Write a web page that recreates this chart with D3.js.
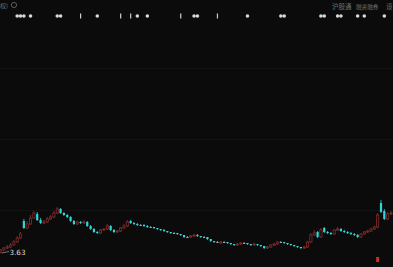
<!DOCTYPE html>
<html>
<head>
<meta charset="utf-8">
<script src="https://cdn.jsdelivr.net/npm/d3@7"></script>
<style>
  html, body { margin: 0; padding: 0; background: #0b0b0b; overflow: hidden; }
  svg { display: block; }
</style>
</head>
<body>
<div id="canvas"></div>
<script>
// daily candles, oldest first
var opens  = [3.64,3.66,3.68,3.69,3.71,3.74,3.78,3.95,3.88,3.92, 3.98,4.02,3.96,3.93,3.94,3.97,3.99,4.03,4.07,4.03,
              4.01,3.99,3.95,3.92,3.94,3.93,3.94,3.90,3.87,3.84, 3.83,3.86,3.87,3.90,3.86,3.84,3.85,3.88,3.90,3.95,
              3.93,3.92,3.91,3.91,3.90,3.89,3.89,3.88,3.87,3.86, 3.85,3.84,3.83,3.83,3.82,3.81,3.79,3.79,3.80,3.81,
              3.80,3.79,3.79,3.77,3.75,3.74,3.73,3.74,3.74,3.73, 3.72,3.71,3.72,3.73,3.73,3.72,3.71,3.72,3.71,3.70,
              3.68,3.69,3.71,3.72,3.74,3.74,3.73,3.72,3.71,3.70, 3.69,3.68,3.69,3.74,3.81,3.84,3.79,3.88,3.84,3.83,
              3.82,3.86,3.87,3.85,3.84,3.83,3.82,3.81,3.79,3.82, 3.84,3.85,3.87,3.89,4.13,4.05,3.97,4.02];
var closes = [3.66,3.68,3.69,3.71,3.74,3.78,3.82,3.88,3.92,3.98, 4.03,3.96,3.93,3.94,3.97,3.99,4.03,4.07,4.03,4.01,
              3.99,3.95,3.92,3.94,3.93,3.94,3.90,3.87,3.84,3.83, 3.86,3.87,3.90,3.86,3.84,3.85,3.88,3.90,3.94,3.93,
              3.92,3.91,3.91,3.90,3.89,3.89,3.88,3.87,3.86,3.85, 3.84,3.83,3.83,3.82,3.81,3.79,3.79,3.80,3.81,3.80,
              3.79,3.79,3.77,3.75,3.74,3.74,3.74,3.74,3.73,3.72, 3.71,3.72,3.73,3.73,3.72,3.71,3.72,3.71,3.70,3.68,
              3.69,3.71,3.72,3.74,3.74,3.73,3.72,3.71,3.70,3.69, 3.68,3.69,3.74,3.81,3.83,3.79,3.86,3.84,3.83,3.82,
              3.86,3.87,3.85,3.84,3.83,3.82,3.81,3.79,3.82,3.84, 3.85,3.87,3.89,4.01,4.04,3.97,4.02,4.03];
var highs  = [3.67,3.69,3.71,3.73,3.76,3.80,3.84,3.97,3.95,4.01, 4.05,4.04,3.98,3.96,3.99,4.01,4.05,4.09,4.08,4.04,
              4.02,4.00,3.96,3.95,3.95,3.96,3.95,3.91,3.88,3.85, 3.87,3.88,3.92,3.91,3.87,3.86,3.89,3.92,3.96,3.96,
              3.94,3.93,3.92,3.92,3.91,3.90,3.89,3.88,3.87,3.87, 3.85,3.84,3.84,3.83,3.82,3.81,3.80,3.81,3.82,3.82,
              3.80,3.80,3.79,3.77,3.75,3.75,3.75,3.75,3.74,3.73, 3.72,3.73,3.74,3.74,3.73,3.72,3.73,3.72,3.71,3.70,
              3.70,3.72,3.73,3.75,3.75,3.74,3.73,3.72,3.71,3.70, 3.69,3.70,3.75,3.83,3.86,3.85,3.88,3.89,3.85,3.84,
              3.87,3.89,3.88,3.86,3.85,3.84,3.83,3.82,3.83,3.85, 3.86,3.88,3.90,4.03,4.16,4.07,4.04,4.05];
var lows   = [3.63,3.65,3.67,3.68,3.70,3.73,3.77,3.87,3.87,3.91, 3.97,3.95,3.92,3.92,3.93,3.96,3.98,4.02,4.02,4.00,
              3.98,3.94,3.91,3.91,3.92,3.92,3.89,3.86,3.83,3.82, 3.82,3.85,3.86,3.85,3.83,3.83,3.84,3.87,3.89,3.92,
              3.91,3.90,3.90,3.89,3.88,3.88,3.87,3.86,3.85,3.84, 3.83,3.82,3.82,3.81,3.80,3.78,3.78,3.78,3.79,3.79,
              3.78,3.78,3.76,3.74,3.73,3.73,3.72,3.73,3.72,3.71, 3.70,3.70,3.71,3.72,3.71,3.70,3.70,3.70,3.69,3.67,
              3.67,3.68,3.70,3.71,3.73,3.72,3.71,3.70,3.69,3.68, 3.67,3.67,3.68,3.73,3.80,3.78,3.78,3.83,3.82,3.81,
              3.81,3.85,3.84,3.83,3.82,3.81,3.80,3.78,3.78,3.81, 3.83,3.84,3.86,3.88,4.03,3.96,3.96,4.01];

var gridPrices = [5.48, 4.77, 4.06];
var lowLabel = "3.63";

// event markers above the chart (candle index)
var eventDots = [5, 6, 7, 9, 17, 18, 29, 41, 44, 58, 59, 74, 84, 85, 96, 97, 101, 102, 107, 109, 115];
var eventBars = [24, 36, 39, 54, 65];
var tradeMarks = [113];

var W = 393, H = 267;
var UP = "#933030", DOWN = "#2fd8d8", FLAT = "#a8a8a8";

var svg = d3.select('#canvas').append('svg')
	.attr('width', W)
	.attr('height', H);

svg.append('rect').attr('width', W).attr('height', H).attr('fill', '#0b0b0b');

var x = d3.scaleLinear().domain([0, closes.length - 1]).range([0.5, 391]);
var y = d3.scaleLinear().domain([3.60, 5.88]).range([256, 28]);

// faint grid
svg.selectAll('line.grid')
	.data(gridPrices)
	.enter()
	.append('line')
	.attr('class', 'grid')
	.attr('x1', 0).attr('x2', W)
	.attr('y1', function(d) { return Math.round(y(d)) + 0.5; })
	.attr('y2', function(d) { return Math.round(y(d)) + 0.5; })
	.attr('stroke', '#121212')
	.attr('stroke-width', 1);

// header
svg.append('text')
	.attr('x', 0).attr('y', 8)
	.attr('font-family', 'Noto Sans CJK SC, sans-serif')
	.attr('font-size', 6)
	.attr('fill', '#6e6e6e')
	.text('权)');
svg.append('circle')
	.attr('cx', 14).attr('cy', 5).attr('r', 2.6)
	.attr('fill', 'none').attr('stroke', '#5a5a5a').attr('stroke-width', 1);

svg.append('text')
	.attr('x', 332).attr('y', 9)
	.attr('font-family', 'Noto Sans CJK SC, sans-serif')
	.attr('font-size', 6.5)
	.attr('fill', '#6e6e6e')
	.text('沪股通');
svg.append('text')
	.attr('x', 356).attr('y', 9)
	.attr('font-family', 'Noto Sans CJK SC, sans-serif')
	.attr('font-size', 5.6)
	.attr('fill', '#6e6e6e')
	.text('融资融券');
svg.append('text')
	.attr('x', 386).attr('y', 9)
	.attr('font-family', 'Noto Sans CJK SC, sans-serif')
	.attr('font-size', 6.5)
	.attr('fill', '#6e6e6e')
	.text('设');

// event row
svg.selectAll('circle.ev')
	.data(eventDots)
	.enter()
	.append('circle')
	.attr('class', 'ev')
	.attr('cx', function(d) { return x(d); })
	.attr('cy', 16)
	.attr('r', 1.8)
	.attr('fill', '#d8d8d8');
svg.selectAll('rect.evbar')
	.data(eventBars)
	.enter()
	.append('rect')
	.attr('class', 'evbar')
	.attr('x', function(d) { return x(d) - 0.6; })
	.attr('y', 13.5)
	.attr('width', 1.2)
	.attr('height', 5)
	.attr('fill', '#cfcfcf');

// candles
var candles = svg.selectAll('g.candle')
	.data(closes)
	.enter()
	.append('g')
	.attr('class', 'candle');

function col(i) {
	if (closes[i] > opens[i]) return UP;
	if (closes[i] < opens[i]) return DOWN;
	return FLAT;
}

candles.append('line')
	.attr('x1', function(d, i) { return x(i); })
	.attr('x2', function(d, i) { return x(i); })
	.attr('y1', function(d, i) { return y(highs[i]); })
	.attr('y2', function(d, i) { return y(lows[i]); })
	.attr('stroke', function(d, i) { return col(i); })
	.attr('stroke-width', 0.8);

candles.append('rect')
	.attr('x', function(d, i) { return x(i) - 1.1; })
	.attr('width', 2.2)
	.attr('y', function(d, i) { return y(Math.max(opens[i], closes[i])); })
	.attr('height', function(d, i) { return Math.max(1, Math.abs(y(opens[i]) - y(closes[i]))); })
	.attr('fill', function(d, i) { return closes[i] > opens[i] ? '#0b0b0b' : col(i); })
	.attr('stroke', function(d, i) { return closes[i] > opens[i] ? UP : 'none'; })
	.attr('stroke-width', 0.7);

// lowest price tag
var lowIdx = d3.minIndex(lows);
svg.append('line')
	.attr('x1', x(lowIdx) + 1).attr('y1', y(lows[lowIdx]))
	.attr('x2', 9).attr('y2', 251.5)
	.attr('stroke', '#bdbdbd').attr('stroke-width', 0.6);
svg.append('text')
	.attr('x', 9.5).attr('y', 254.5)
	.attr('font-family', 'DejaVu Sans, sans-serif')
	.attr('font-size', 7.2)
	.attr('fill', '#dcdcdc')
	.text(lowLabel);

// buy marker under candle
svg.selectAll('rect.trade')
	.data(tradeMarks)
	.enter()
	.append('rect')
	.attr('class', 'trade')
	.attr('x', function(d) { return x(d) - 1.5; })
	.attr('y', 257)
	.attr('width', 3)
	.attr('height', 5)
	.attr('fill', '#c23030');
</script>
</body>
</html>
